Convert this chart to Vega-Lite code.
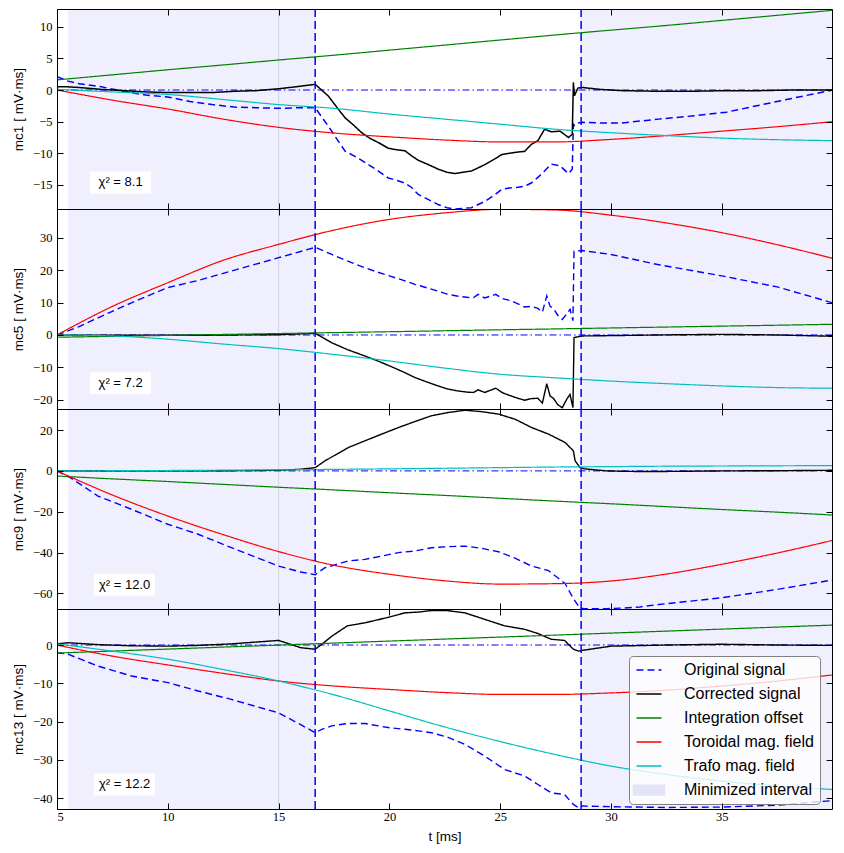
{
"$schema": "https://vega.github.io/schema/vega-lite/v6.json",
"padding": {"left": 11, "top": 8, "right": 10, "bottom": 4},
"bounds": "flush",
"config": {
 "view": {"stroke": null},
 "axis": {"labelFont": "Liberation Serif", "labelFontSize": 12.5, "labelColor": "black", "titleFont": "Liberation Sans", "titleFontSize": 13.5, "titleFontWeight": "normal", "titleColor": "black", "grid": false, "domain": true, "domainColor": "black", "domainWidth": 1, "tickColor": "black", "tickSize": -6, "tickWidth": 1, "labelPadding": 11, "titlePadding": 7},
 "legend": {"labelFont": "Liberation Sans", "labelFontSize": 16, "labelColor": "black", "symbolType": "stroke", "symbolSize": 625, "symbolStrokeWidth": 1.5, "labelOffset": 27, "symbolOffset": 6, "rowPadding": 8, "padding": 6, "fillColor": "rgba(255,255,255,0.8)", "strokeColor": "#808080", "cornerRadius": 4}
},
"datasets": {
 "spans": [{"a": 5.5, "b": 16.65}, {"a": 28.65, "b": 40}],
 "vl": [{"t": 16.65}, {"t": 28.65}],
 "ann": [{"p": 1, "t": 7.87, "v": -14.6, "lab": "χ² = 8.1"}, {"p": 2, "t": 7.87, "v": -14.9, "lab": "χ² = 7.2"}, {"p": 3, "t": 8.05, "v": -55.7, "lab": "χ² = 12.0"}, {"p": 4, "t": 8.05, "v": -36.4, "lab": "χ² = 12.2"}],
 "s": [
  {"p":1,"t":5,"i":1.6,"r":0,"f":0.1},{"p":1,"t":7.5,"i":2.4,"r":-1.6,"f":-0.3},{"p":1,"t":10,"i":3.2,"r":-3.0,"f":-0.7},{"p":1,"t":12.5,"i":3.96,"r":-4.6,"f":-1.5},{"p":1,"t":15,"i":4.74,"r":-5.9,"f":-2.3},{"p":1,"t":17.5,"i":5.5,"r":-6.8,"f":-2.9},{"p":1,"t":20,"i":6.3,"r":-7.4,"f":-3.8},{"p":1,"t":22.5,"i":7.1,"r":-7.9,"f":-4.6},{"p":1,"t":25,"i":7.9,"r":-8.2,"f":-5.4},{"p":1,"t":27.5,"i":8.7,"r":-8.2,"f":-6.2},{"p":1,"t":30,"i":9.46,"r":-7.8,"f":-6.75},{"p":1,"t":32.5,"i":10.2,"r":-7.2,"f":-7.2},{"p":1,"t":35,"i":11.0,"r":-6.5,"f":-7.6},{"p":1,"t":37.5,"i":11.8,"r":-5.8,"f":-7.85},{"p":1,"t":40,"i":12.6,"r":-5.0,"f":-8.0},
  {"p":2,"t":5,"i":-0.7,"r":0,"f":0},{"p":2,"t":7.5,"i":-0.41,"r":8.8,"f":-0.3},{"p":2,"t":10,"i":-0.13,"r":16.1,"f":-1.3},{"p":2,"t":12.5,"i":0.16,"r":23.0,"f":-2.8},{"p":2,"t":15,"i":0.44,"r":27.9,"f":-4.2},{"p":2,"t":17.5,"i":0.73,"r":32.3,"f":-6.0},{"p":2,"t":20,"i":1.0,"r":35.6,"f":-8.0},{"p":2,"t":22.5,"i":1.3,"r":37.6,"f":-10.2},{"p":2,"t":25,"i":1.6,"r":38.7,"f":-12.1},{"p":2,"t":27.5,"i":1.87,"r":38.5,"f":-13.2},{"p":2,"t":30,"i":2.16,"r":36.9,"f":-14.2},{"p":2,"t":32.5,"i":2.44,"r":34.5,"f":-15.0},{"p":2,"t":35,"i":2.73,"r":31.5,"f":-15.7},{"p":2,"t":37.5,"i":3.0,"r":27.8,"f":-16.2},{"p":2,"t":40,"i":3.3,"r":23.6,"f":-16.4},
  {"p":3,"t":5,"i":-2.5,"r":0,"f":0},{"p":3,"t":7.5,"i":-3.9,"r":-11.8,"f":0.1},{"p":3,"t":10,"i":-5.2,"r":-22.1,"f":0.2},{"p":3,"t":12.5,"i":-6.6,"r":-31.2,"f":0.35},{"p":3,"t":15,"i":-8.0,"r":-39.5,"f":0.5},{"p":3,"t":17.5,"i":-9.3,"r":-46.2,"f":0.75},{"p":3,"t":20,"i":-10.7,"r":-50.6,"f":1.0},{"p":3,"t":22.5,"i":-12.0,"r":-53.8,"f":1.3},{"p":3,"t":25,"i":-13.4,"r":-55.4,"f":1.6},{"p":3,"t":27.5,"i":-14.8,"r":-55.2,"f":1.9},{"p":3,"t":30,"i":-16.1,"r":-53.9,"f":2.1},{"p":3,"t":32.5,"i":-17.5,"r":-50.5,"f":2.3},{"p":3,"t":35,"i":-18.9,"r":-45.7,"f":2.4},{"p":3,"t":37.5,"i":-20.2,"r":-40.2,"f":2.5},{"p":3,"t":40,"i":-21.6,"r":-34.0,"f":2.6},
  {"p":4,"t":5,"i":-2.1,"r":0,"f":0.3},{"p":4,"t":7.5,"i":-1.58,"r":-2.9,"f":-1.6},{"p":4,"t":10,"i":-1.06,"r":-5.2,"f":-3.7},{"p":4,"t":12.5,"i":-0.54,"r":-7.4,"f":-6.4},{"p":4,"t":15,"i":-0.02,"r":-9.4,"f":-9.4},{"p":4,"t":17.5,"i":0.5,"r":-10.7,"f":-13.0},{"p":4,"t":20,"i":1.03,"r":-11.6,"f":-17.2},{"p":4,"t":22.5,"i":1.55,"r":-12.4,"f":-21.4},{"p":4,"t":25,"i":2.07,"r":-12.9,"f":-25.2},{"p":4,"t":27.5,"i":2.59,"r":-12.9,"f":-28.6},{"p":4,"t":30,"i":3.11,"r":-12.5,"f":-31.6},{"p":4,"t":32.5,"i":3.63,"r":-11.8,"f":-33.8},{"p":4,"t":35,"i":4.15,"r":-10.7,"f":-35.5},{"p":4,"t":37.5,"i":4.68,"r":-9.4,"f":-36.8},{"p":4,"t":40,"i":5.2,"r":-7.8,"f":-37.7}
 ],
 "m": [
  {"p":1,"t":5,"o":2.1,"c":0.5},{"p":1,"t":5.5,"o":1.4,"c":0.5},{"p":1,"t":6,"o":1.0,"c":0.4},{"p":1,"t":7,"o":0.5,"c":0.1},{"p":1,"t":8,"o":-0.2,"c":-0.1},{"p":1,"t":9,"o":-0.8,"c":-0.3},{"p":1,"t":10,"o":-1.1,"c":-0.4},{"p":1,"t":11,"o":-1.8,"c":-0.4},{"p":1,"t":12,"o":-2.3,"c":-0.4},{"p":1,"t":13,"o":-2.7,"c":-0.2},{"p":1,"t":14,"o":-2.8,"c":-0.1},{"p":1,"t":15,"o":-2.9,"c":0.2},{"p":1,"t":16,"o":-2.8,"c":0.6},{"p":1,"t":16.65,"o":-2.8,"c":0.9},{"p":1,"t":17.24,"o":-5.7,"c":-0.95},{"p":1,"t":17.6,"o":-7.6,"c":-2.6},{"p":1,"t":18.0,"o":-9.65,"c":-4.4},{"p":1,"t":18.4,"o":-10.4,"c":-5.6},{"p":1,"t":18.75,"o":-11.1,"c":-6.75},{"p":1,"t":19.1,"o":-11.9,"c":-7.6},{"p":1,"t":19.5,"o":-12.8,"c":-8.3},{"p":1,"t":19.95,"o":-13.9,"c":-9.2},{"p":1,"t":20.25,"o":-14.2,"c":-9.4},{"p":1,"t":20.7,"o":-14.7,"c":-9.6},{"p":1,"t":21.0,"o":-15.4,"c":-10.4},{"p":1,"t":21.3,"o":-16.5,"c":-11.1},{"p":1,"t":21.7,"o":-17.2,"c":-11.7},{"p":1,"t":22.2,"o":-18.1,"c":-12.5},{"p":1,"t":22.6,"o":-18.6,"c":-13.0},{"p":1,"t":22.96,"o":-18.8,"c":-13.2},{"p":1,"t":23.3,"o":-18.7,"c":-13.0},{"p":1,"t":23.7,"o":-18.6,"c":-12.8},{"p":1,"t":24.3,"o":-17.6,"c":-11.8},{"p":1,"t":24.7,"o":-16.7,"c":-11.0},{"p":1,"t":25.07,"o":-15.7,"c":-10.2},{"p":1,"t":25.4,"o":-15.5,"c":-10.0},{"p":1,"t":25.8,"o":-15.35,"c":-9.8},{"p":1,"t":26.1,"o":-15.2,"c":-9.7},{"p":1,"t":26.4,"o":-14.7,"c":-8.6},{"p":1,"t":26.7,"o":-13.8,"c":-8.0},{"p":1,"t":27.0,"o":-12.8,"c":-6.2},{"p":1,"t":27.3,"o":-11.7,"c":-6.6},{"p":1,"t":27.7,"o":-12.0,"c":-6.5},{"p":1,"t":28.08,"o":-13.2,"c":-7.5},{"p":1,"t":28.25,"o":-12.5,"c":-7.0},{"p":1,"t":28.3,"o":-5.4,"c":1.2},{"p":1,"t":28.35,"o":-5.6,"c":-0.9},{"p":1,"t":28.5,"o":-5.2,"c":0.3},{"p":1,"t":28.7,"o":-5.1,"c":0.4},{"p":1,"t":29.5,"o":-5.2,"c":0.1},{"p":1,"t":30.5,"o":-5.2,"c":-0.1},{"p":1,"t":32.15,"o":-4.6,"c":-0.2},{"p":1,"t":33.65,"o":-4.1,"c":-0.2},{"p":1,"t":35.2,"o":-3.5,"c":-0.1},{"p":1,"t":36.7,"o":-2.4,"c":-0.1},{"p":1,"t":38.2,"o":-1.3,"c":0.0},{"p":1,"t":40,"o":0.0,"c":0.0},
  {"p":2,"t":5,"o":0,"c":0},{"p":2,"t":6,"o":2.6,"c":-0.1},{"p":2,"t":7.5,"o":7.3,"c":-0.1},{"p":2,"t":8.36,"o":9.9,"c":-0.1},{"p":2,"t":10,"o":14.6,"c":-0.1},{"p":2,"t":11.37,"o":16.8,"c":-0.1},{"p":2,"t":12.87,"o":19.7,"c":0.0},{"p":2,"t":15,"o":23.8,"c":0.1},{"p":2,"t":16.65,"o":27.0,"c":0.5},{"p":2,"t":17.4,"o":24.8,"c":-2.4},{"p":2,"t":18.1,"o":22.8,"c":-4.5},{"p":2,"t":18.9,"o":20.7,"c":-6.5},{"p":2,"t":19.4,"o":19.5,"c":-7.8},{"p":2,"t":20.0,"o":18.2,"c":-9.5},{"p":2,"t":20.6,"o":16.9,"c":-11.3},{"p":2,"t":21.15,"o":15.6,"c":-13.1},{"p":2,"t":21.7,"o":14.5,"c":-14.5},{"p":2,"t":22.2,"o":13.5,"c":-15.7},{"p":2,"t":22.6,"o":12.6,"c":-16.6},{"p":2,"t":23.05,"o":12.0,"c":-17.2},{"p":2,"t":23.5,"o":11.6,"c":-17.6},{"p":2,"t":23.8,"o":11.5,"c":-17.7},{"p":2,"t":24.0,"o":12.5,"c":-16.9},{"p":2,"t":24.3,"o":11.4,"c":-17.7},{"p":2,"t":24.8,"o":12.5,"c":-16.4},{"p":2,"t":25.1,"o":11.2,"c":-17.8},{"p":2,"t":25.5,"o":10.5,"c":-18.8},{"p":2,"t":25.8,"o":9.6,"c":-19.5},{"p":2,"t":26.1,"o":8.6,"c":-20.1},{"p":2,"t":26.4,"o":8.8,"c":-19.6},{"p":2,"t":26.7,"o":8.2,"c":-19.5},{"p":2,"t":26.9,"o":7.0,"c":-21.0},{"p":2,"t":27.1,"o":12.0,"c":-15.0},{"p":2,"t":27.25,"o":8.8,"c":-18.8},{"p":2,"t":27.4,"o":8.2,"c":-19.5},{"p":2,"t":27.6,"o":6.0,"c":-21.5},{"p":2,"t":27.8,"o":4.8,"c":-22.4},{"p":2,"t":28.0,"o":6.5,"c":-19.8},{"p":2,"t":28.15,"o":7.9,"c":-18.3},{"p":2,"t":28.28,"o":4.4,"c":-22.4},{"p":2,"t":28.33,"o":25.8,"c":-0.8},{"p":2,"t":28.7,"o":26.0,"c":-0.3},{"p":2,"t":30,"o":24.8,"c":-0.2},{"p":2,"t":32.1,"o":21.7,"c":0.0},{"p":2,"t":35,"o":18.2,"c":0.2},{"p":2,"t":37.5,"o":14.8,"c":0.0},{"p":2,"t":40,"o":9.9,"c":-0.4},
  {"p":3,"t":5,"o":0,"c":0},{"p":3,"t":5.6,"o":-3.3,"c":0},{"p":3,"t":6.85,"o":-12.3,"c":0},{"p":3,"t":8.36,"o":-18.8,"c":0},{"p":3,"t":10,"o":-26.1,"c":0},{"p":3,"t":11.37,"o":-31.0,"c":0},{"p":3,"t":12.87,"o":-37.6,"c":0.1},{"p":3,"t":15,"o":-46.6,"c":0.3},{"p":3,"t":16,"o":-49.5,"c":0.8},{"p":3,"t":16.65,"o":-50.8,"c":1.6},{"p":3,"t":17.09,"o":-47.4,"c":4.9},{"p":3,"t":18.14,"o":-44.1,"c":11.4},{"p":3,"t":18.89,"o":-43.3,"c":14.7},{"p":3,"t":19.65,"o":-41.7,"c":18.0},{"p":3,"t":20.4,"o":-40.0,"c":21.2},{"p":3,"t":21.16,"o":-39.2,"c":24.2},{"p":3,"t":21.9,"o":-37.6,"c":27.0},{"p":3,"t":22.66,"o":-37.1,"c":28.6},{"p":3,"t":23.41,"o":-36.8,"c":29.7},{"p":3,"t":24.16,"o":-37.9,"c":29.0},{"p":3,"t":24.92,"o":-39.6,"c":27.8},{"p":3,"t":25.67,"o":-42.7,"c":25.3},{"p":3,"t":26.42,"o":-46.6,"c":21.2},{"p":3,"t":27.18,"o":-48.8,"c":18.0},{"p":3,"t":27.93,"o":-55.2,"c":13.9},{"p":3,"t":28.3,"o":-62.5,"c":9.8},{"p":3,"t":28.38,"o":-63.7,"c":4.9},{"p":3,"t":28.6,"o":-67.2,"c":1.6},{"p":3,"t":28.8,"o":-67.4,"c":1.0},{"p":3,"t":29.8,"o":-67.4,"c":0.0},{"p":3,"t":30.6,"o":-67.1,"c":-0.2},{"p":3,"t":31.3,"o":-66.6,"c":-0.3},{"p":3,"t":32.15,"o":-65.4,"c":-0.3},{"p":3,"t":35,"o":-62.1,"c":0.0},{"p":3,"t":37.5,"o":-58.0,"c":0.1},{"p":3,"t":40,"o":-53.4,"c":0.3},
  {"p":4,"t":5,"o":-2.0,"c":0.3},{"p":4,"t":5.5,"o":-2.4,"c":0.6},{"p":4,"t":6.85,"o":-5.5,"c":0.1},{"p":4,"t":8.36,"o":-8.1,"c":-0.2},{"p":4,"t":10,"o":-9.8,"c":-0.3},{"p":4,"t":11.37,"o":-12.0,"c":-0.1},{"p":4,"t":12.87,"o":-14.2,"c":0.3},{"p":4,"t":15,"o":-17.7,"c":1.2},{"p":4,"t":16,"o":-20.8,"c":-0.7},{"p":4,"t":16.65,"o":-22.9,"c":-1.1},{"p":4,"t":16.95,"o":-22.0,"c":0.2},{"p":4,"t":17.4,"o":-21.1,"c":2.3},{"p":4,"t":18.1,"o":-20.5,"c":5.0},{"p":4,"t":18.9,"o":-20.5,"c":5.8},{"p":4,"t":20.0,"o":-21.6,"c":7.3},{"p":4,"t":20.7,"o":-22.0,"c":8.4},{"p":4,"t":21.3,"o":-22.4,"c":8.6},{"p":4,"t":21.9,"o":-22.9,"c":9.0},{"p":4,"t":22.6,"o":-24.0,"c":9.0},{"p":4,"t":23.4,"o":-25.9,"c":8.4},{"p":4,"t":24.3,"o":-29.0,"c":6.7},{"p":4,"t":25.2,"o":-32.5,"c":5.0},{"p":4,"t":26.1,"o":-34.2,"c":4.1},{"p":4,"t":26.7,"o":-36.4,"c":3.0},{"p":4,"t":27.3,"o":-38.6,"c":1.5},{"p":4,"t":27.9,"o":-39.0,"c":1.2},{"p":4,"t":28.3,"o":-41.6,"c":-1.1},{"p":4,"t":28.55,"o":-42.5,"c":-1.6},{"p":4,"t":28.7,"o":-42.0,"c":-1.4},{"p":4,"t":30,"o":-42.2,"c":-0.3},{"p":4,"t":32.5,"o":-42.4,"c":0.0},{"p":4,"t":35,"o":-42.3,"c":0.2},{"p":4,"t":37.5,"o":-41.8,"c":0.0},{"p":4,"t":40,"o":-40.6,"c":-0.1}
 ]
},
"spacing": 0,
"resolve": {"scale": {"x": "independent", "y": "independent", "color": "independent", "strokeDash": "independent"}},
"vconcat": [
 {"width": 775, "height": 200, "resolve": {"axis": {"x": "independent", "y": "independent"}}, "layer": [
  {"data": {"name": "spans"}, "mark": {"type": "rect", "color": "#efeffd", "clip": true}, "encoding": {"x": {"field": "a", "type": "quantitative", "scale": {"domain": [5, 39.97], "nice": false, "zero": false}, "axis": null}, "x2": {"field": "b"}}},
  {"data": {"values": [{}]}, "mark": {"type": "rule", "color": "#d2d2de", "strokeWidth": 1}, "encoding": {"x": {"datum": 15, "type": "quantitative", "scale": {"domain": [5, 39.97], "nice": false, "zero": false}, "axis": null}}},
  {"data": {"values": [{}]}, "mark": {"type": "rule", "color": "#0000ff", "strokeDash": [7, 3, 1.5, 3], "strokeWidth": 1}, "encoding": {"y": {"datum": 0, "type": "quantitative", "scale": {"domain": [-18.8, 12.8], "nice": false, "zero": false}, "axis": null}}},
  {"data": {"name": "m"}, "transform": [{"filter": "datum.p == 1"}, {"fold": ["o", "c"], "as": ["k", "v"]}], "mark": {"type": "line", "strokeWidth": 1.5, "clip": true},
   "encoding": {"x": {"field": "t", "type": "quantitative", "scale": {"domain": [5, 39.97], "nice": false, "zero": false}, "axis": {"orient": "bottom", "zindex": 1, "values": [5, 10, 15, 20, 25, 30, 35], "labels": false, "title": null}},
    "y": {"field": "v", "type": "quantitative", "scale": {"domain": [-18.8, 12.8], "nice": false, "zero": false}, "axis": {"orient": "left", "zindex": 1, "values": [-15, -10, -5, 0, 5, 10], "title": "mc1 [ mV·ms]"}},
    "color": {"field": "k", "type": "nominal", "scale": {"domain": ["o", "c", "i", "r", "f", "m"], "range": ["#0000ff", "#000000", "#008000", "#ff0000", "#00bfbf", "#e4e4f8"]}, "legend": null},
    "strokeDash": {"field": "k", "type": "nominal", "scale": {"domain": ["o", "c", "i", "r", "f", "m"], "range": [[7, 4], [1, 0], [1, 0], [1, 0], [1, 0], [1, 0]]}, "legend": null}}},
  {"data": {"name": "s"}, "transform": [{"filter": "datum.p == 1"}, {"fold": ["i", "r", "f"], "as": ["k", "v"]}], "mark": {"type": "line", "interpolate": "monotone", "strokeWidth": 1.2, "clip": true},
   "encoding": {"x": {"field": "t", "type": "quantitative", "scale": {"domain": [5, 39.97], "nice": false, "zero": false}, "axis": {"orient": "top", "zindex": 1, "values": [5, 10, 15, 20, 25, 30, 35], "labels": false, "title": null}},
    "y": {"field": "v", "type": "quantitative", "scale": {"domain": [-18.8, 12.8], "nice": false, "zero": false}, "axis": {"orient": "right", "zindex": 1, "values": [-15, -10, -5, 0, 5, 10], "labels": false, "title": null}},
    "color": {"field": "k", "type": "nominal", "scale": {"domain": ["o", "c", "i", "r", "f", "m"], "range": ["#0000ff", "#000000", "#008000", "#ff0000", "#00bfbf", "#e4e4f8"]}, "legend": null},
    "strokeDash": {"field": "k", "type": "nominal", "scale": {"domain": ["o", "c", "i", "r", "f", "m"], "range": [[7, 4], [1, 0], [1, 0], [1, 0], [1, 0], [1, 0]]}, "legend": null}}},
  {"data": {"name": "vl"}, "mark": {"type": "rule", "color": "#0000ff", "strokeDash": [8, 4], "strokeWidth": 1.5}, "encoding": {"x": {"field": "t", "type": "quantitative", "scale": {"domain": [5, 39.97], "nice": false, "zero": false}, "axis": null}}},
  {"data": {"name": "ann"}, "transform": [{"filter": "datum.p == 1"}], "mark": {"type": "point", "shape": "M-1,-0.36L1,-0.36L1,0.36L-1,0.36Z", "size": 3721, "filled": true, "color": "white", "opacity": 1, "strokeWidth": 0}, "encoding": {"x": {"field": "t", "type": "quantitative", "scale": {"domain": [5, 39.97], "nice": false, "zero": false}, "axis": null}, "y": {"field": "v", "type": "quantitative", "scale": {"domain": [-18.8, 12.8], "nice": false, "zero": false}, "axis": null}}},
  {"data": {"name": "ann"}, "transform": [{"filter": "datum.p == 1"}], "mark": {"type": "text", "font": "Liberation Sans", "fontSize": 13, "color": "black"}, "encoding": {"x": {"field": "t", "type": "quantitative", "scale": {"domain": [5, 39.97], "nice": false, "zero": false}, "axis": null}, "y": {"field": "v", "type": "quantitative", "scale": {"domain": [-18.8, 12.8], "nice": false, "zero": false}, "axis": null}, "text": {"field": "lab"}}}
 ]},
 {"width": 775, "height": 200, "resolve": {"axis": {"x": "independent", "y": "independent"}}, "layer": [
  {"data": {"name": "spans"}, "mark": {"type": "rect", "color": "#efeffd", "clip": true}, "encoding": {"x": {"field": "a", "type": "quantitative", "scale": {"domain": [5, 39.97], "nice": false, "zero": false}, "axis": null}, "x2": {"field": "b"}}},
  {"data": {"values": [{}]}, "mark": {"type": "rule", "color": "#d2d2de", "strokeWidth": 1}, "encoding": {"x": {"datum": 15, "type": "quantitative", "scale": {"domain": [5, 39.97], "nice": false, "zero": false}, "axis": null}}},
  {"data": {"values": [{}]}, "mark": {"type": "rule", "color": "#0000ff", "strokeDash": [7, 3, 1.5, 3], "strokeWidth": 1}, "encoding": {"y": {"datum": 0, "type": "quantitative", "scale": {"domain": [-22.8, 38.8], "nice": false, "zero": false}, "axis": null}}},
  {"data": {"name": "m"}, "transform": [{"filter": "datum.p == 2"}, {"fold": ["o", "c"], "as": ["k", "v"]}], "mark": {"type": "line", "strokeWidth": 1.4, "clip": true},
   "encoding": {"x": {"field": "t", "type": "quantitative", "scale": {"domain": [5, 39.97], "nice": false, "zero": false}, "axis": {"orient": "bottom", "zindex": 1, "values": [5, 10, 15, 20, 25, 30, 35], "labels": false, "title": null}},
    "y": {"field": "v", "type": "quantitative", "scale": {"domain": [-22.8, 38.8], "nice": false, "zero": false}, "axis": {"orient": "left", "zindex": 1, "values": [-20, -10, 0, 10, 20, 30], "title": "mc5 [ mV·ms]"}},
    "color": {"field": "k", "type": "nominal", "scale": {"domain": ["o", "c", "i", "r", "f", "m"], "range": ["#0000ff", "#000000", "#008000", "#ff0000", "#00bfbf", "#e4e4f8"]}, "legend": null},
    "strokeDash": {"field": "k", "type": "nominal", "scale": {"domain": ["o", "c", "i", "r", "f", "m"], "range": [[7, 4], [1, 0], [1, 0], [1, 0], [1, 0], [1, 0]]}, "legend": null}}},
  {"data": {"name": "s"}, "transform": [{"filter": "datum.p == 2"}, {"fold": ["i", "r", "f"], "as": ["k", "v"]}], "mark": {"type": "line", "interpolate": "monotone", "strokeWidth": 1.2, "clip": true},
   "encoding": {"x": {"field": "t", "type": "quantitative", "scale": {"domain": [5, 39.97], "nice": false, "zero": false}, "axis": {"orient": "top", "zindex": 1, "values": [5, 10, 15, 20, 25, 30, 35], "labels": false, "title": null}},
    "y": {"field": "v", "type": "quantitative", "scale": {"domain": [-22.8, 38.8], "nice": false, "zero": false}, "axis": {"orient": "right", "zindex": 1, "values": [-20, -10, 0, 10, 20, 30], "labels": false, "title": null}},
    "color": {"field": "k", "type": "nominal", "scale": {"domain": ["o", "c", "i", "r", "f", "m"], "range": ["#0000ff", "#000000", "#008000", "#ff0000", "#00bfbf", "#e4e4f8"]}, "legend": null},
    "strokeDash": {"field": "k", "type": "nominal", "scale": {"domain": ["o", "c", "i", "r", "f", "m"], "range": [[7, 4], [1, 0], [1, 0], [1, 0], [1, 0], [1, 0]]}, "legend": null}}},
  {"data": {"name": "vl"}, "mark": {"type": "rule", "color": "#0000ff", "strokeDash": [8, 4], "strokeWidth": 1.5}, "encoding": {"x": {"field": "t", "type": "quantitative", "scale": {"domain": [5, 39.97], "nice": false, "zero": false}, "axis": null}}},
  {"data": {"name": "ann"}, "transform": [{"filter": "datum.p == 2"}], "mark": {"type": "point", "shape": "M-1,-0.36L1,-0.36L1,0.36L-1,0.36Z", "size": 3721, "filled": true, "color": "white", "opacity": 1, "strokeWidth": 0}, "encoding": {"x": {"field": "t", "type": "quantitative", "scale": {"domain": [5, 39.97], "nice": false, "zero": false}, "axis": null}, "y": {"field": "v", "type": "quantitative", "scale": {"domain": [-22.8, 38.8], "nice": false, "zero": false}, "axis": null}}},
  {"data": {"name": "ann"}, "transform": [{"filter": "datum.p == 2"}], "mark": {"type": "text", "font": "Liberation Sans", "fontSize": 13, "color": "black"}, "encoding": {"x": {"field": "t", "type": "quantitative", "scale": {"domain": [5, 39.97], "nice": false, "zero": false}, "axis": null}, "y": {"field": "v", "type": "quantitative", "scale": {"domain": [-22.8, 38.8], "nice": false, "zero": false}, "axis": null}, "text": {"field": "lab"}}}
 ]},
 {"width": 775, "height": 200, "resolve": {"axis": {"x": "independent", "y": "independent"}}, "layer": [
  {"data": {"name": "spans"}, "mark": {"type": "rect", "color": "#efeffd", "clip": true}, "encoding": {"x": {"field": "a", "type": "quantitative", "scale": {"domain": [5, 39.97], "nice": false, "zero": false}, "axis": null}, "x2": {"field": "b"}}},
  {"data": {"values": [{}]}, "mark": {"type": "rule", "color": "#d2d2de", "strokeWidth": 1}, "encoding": {"x": {"datum": 15, "type": "quantitative", "scale": {"domain": [5, 39.97], "nice": false, "zero": false}, "axis": null}}},
  {"data": {"values": [{}]}, "mark": {"type": "rule", "color": "#0000ff", "strokeDash": [7, 3, 1.5, 3], "strokeWidth": 1}, "encoding": {"y": {"datum": 0, "type": "quantitative", "scale": {"domain": [-67.6, 30.3], "nice": false, "zero": false}, "axis": null}}},
  {"data": {"name": "m"}, "transform": [{"filter": "datum.p == 3"}, {"fold": ["o", "c"], "as": ["k", "v"]}], "mark": {"type": "line", "strokeWidth": 1.4, "clip": true},
   "encoding": {"x": {"field": "t", "type": "quantitative", "scale": {"domain": [5, 39.97], "nice": false, "zero": false}, "axis": {"orient": "bottom", "zindex": 1, "values": [5, 10, 15, 20, 25, 30, 35], "labels": false, "title": null}},
    "y": {"field": "v", "type": "quantitative", "scale": {"domain": [-67.6, 30.3], "nice": false, "zero": false}, "axis": {"orient": "left", "zindex": 1, "values": [-60, -40, -20, 0, 20], "title": "mc9 [ mV·ms]"}},
    "color": {"field": "k", "type": "nominal", "scale": {"domain": ["o", "c", "i", "r", "f", "m"], "range": ["#0000ff", "#000000", "#008000", "#ff0000", "#00bfbf", "#e4e4f8"]}, "legend": null},
    "strokeDash": {"field": "k", "type": "nominal", "scale": {"domain": ["o", "c", "i", "r", "f", "m"], "range": [[7, 4], [1, 0], [1, 0], [1, 0], [1, 0], [1, 0]]}, "legend": null}}},
  {"data": {"name": "s"}, "transform": [{"filter": "datum.p == 3"}, {"fold": ["i", "r", "f"], "as": ["k", "v"]}], "mark": {"type": "line", "interpolate": "monotone", "strokeWidth": 1.2, "clip": true},
   "encoding": {"x": {"field": "t", "type": "quantitative", "scale": {"domain": [5, 39.97], "nice": false, "zero": false}, "axis": {"orient": "top", "zindex": 1, "values": [5, 10, 15, 20, 25, 30, 35], "labels": false, "title": null}},
    "y": {"field": "v", "type": "quantitative", "scale": {"domain": [-67.6, 30.3], "nice": false, "zero": false}, "axis": {"orient": "right", "zindex": 1, "values": [-60, -40, -20, 0, 20], "labels": false, "title": null}},
    "color": {"field": "k", "type": "nominal", "scale": {"domain": ["o", "c", "i", "r", "f", "m"], "range": ["#0000ff", "#000000", "#008000", "#ff0000", "#00bfbf", "#e4e4f8"]}, "legend": null},
    "strokeDash": {"field": "k", "type": "nominal", "scale": {"domain": ["o", "c", "i", "r", "f", "m"], "range": [[7, 4], [1, 0], [1, 0], [1, 0], [1, 0], [1, 0]]}, "legend": null}}},
  {"data": {"name": "vl"}, "mark": {"type": "rule", "color": "#0000ff", "strokeDash": [8, 4], "strokeWidth": 1.5}, "encoding": {"x": {"field": "t", "type": "quantitative", "scale": {"domain": [5, 39.97], "nice": false, "zero": false}, "axis": null}}},
  {"data": {"name": "ann"}, "transform": [{"filter": "datum.p == 3"}], "mark": {"type": "point", "shape": "M-1,-0.36L1,-0.36L1,0.36L-1,0.36Z", "size": 3721, "filled": true, "color": "white", "opacity": 1, "strokeWidth": 0}, "encoding": {"x": {"field": "t", "type": "quantitative", "scale": {"domain": [5, 39.97], "nice": false, "zero": false}, "axis": null}, "y": {"field": "v", "type": "quantitative", "scale": {"domain": [-67.6, 30.3], "nice": false, "zero": false}, "axis": null}}},
  {"data": {"name": "ann"}, "transform": [{"filter": "datum.p == 3"}], "mark": {"type": "text", "font": "Liberation Sans", "fontSize": 13, "color": "black"}, "encoding": {"x": {"field": "t", "type": "quantitative", "scale": {"domain": [5, 39.97], "nice": false, "zero": false}, "axis": null}, "y": {"field": "v", "type": "quantitative", "scale": {"domain": [-67.6, 30.3], "nice": false, "zero": false}, "axis": null}, "text": {"field": "lab"}}}
 ]},
 {"width": 775, "height": 200, "resolve": {"axis": {"x": "independent", "y": "independent"}}, "layer": [
  {"data": {"name": "spans"}, "mark": {"type": "rect", "color": "#efeffd", "clip": true}, "encoding": {"x": {"field": "a", "type": "quantitative", "scale": {"domain": [5, 39.97], "nice": false, "zero": false}, "axis": null}, "x2": {"field": "b"}}},
  {"data": {"values": [{}]}, "mark": {"type": "rule", "color": "#d2d2de", "strokeWidth": 1}, "encoding": {"x": {"datum": 15, "type": "quantitative", "scale": {"domain": [5, 39.97], "nice": false, "zero": false}, "axis": null}}},
  {"data": {"values": [{}]}, "mark": {"type": "rule", "color": "#0000ff", "strokeDash": [7, 3, 1.5, 3], "strokeWidth": 1}, "encoding": {"y": {"datum": 0, "type": "quantitative", "scale": {"domain": [-42.8, 9.4], "nice": false, "zero": false}, "axis": null}}},
  {"data": {"name": "m"}, "transform": [{"filter": "datum.p == 4"}, {"fold": ["o", "c"], "as": ["k", "v"]}], "mark": {"type": "line", "strokeWidth": 1.4, "clip": true},
   "encoding": {"x": {"field": "t", "type": "quantitative", "scale": {"domain": [5, 39.97], "nice": false, "zero": false}, "axis": {"orient": "bottom", "zindex": 1, "values": [5, 10, 15, 20, 25, 30, 35], "title": "t [ms]", "labelPadding": 7, "titlePadding": 7}},
    "y": {"field": "v", "type": "quantitative", "scale": {"domain": [-42.8, 9.4], "nice": false, "zero": false}, "axis": {"orient": "left", "zindex": 1, "values": [-40, -30, -20, -10, 0], "title": "mc13 [ mV·ms]"}},
    "color": {"field": "k", "type": "nominal", "scale": {"domain": ["o", "c", "i", "r", "f", "m"], "range": ["#0000ff", "#000000", "#008000", "#ff0000", "#00bfbf", "#e4e4f8"]}, "legend": {"orient": "none", "legendX": 572, "legendY": 47, "title": null, "labelOffset": 27, "symbolOffset": 6, "labelExpr": "datum.value == 'o' ? 'Original signal' : datum.value == 'c' ? 'Corrected signal' : datum.value == 'i' ? 'Integration offset' : datum.value == 'r' ? 'Toroidal mag. field' : datum.value == 'f' ? 'Trafo mag. field' : 'Minimized interval'", "encode": {"symbols": {"update": {"shape": {"signal": "datum.value == 'm' ? 'M-1.3,-0.45L1.3,-0.45L1.3,0.45L-1.3,0.45Z' : 'stroke'"}, "fill": {"signal": "datum.value == 'm' ? '#e4e4f8' : 'transparent'"}, "strokeWidth": {"signal": "datum.value == 'm' ? 0 : 1.5"}}}}}},
    "strokeDash": {"field": "k", "type": "nominal", "scale": {"domain": ["o", "c", "i", "r", "f", "m"], "range": [[7, 4], [1, 0], [1, 0], [1, 0], [1, 0], [1, 0]]}, "legend": {"orient": "none", "legendX": 572, "legendY": 47, "title": null, "labelOffset": 27, "symbolOffset": 6, "labelExpr": "datum.value == 'o' ? 'Original signal' : datum.value == 'c' ? 'Corrected signal' : datum.value == 'i' ? 'Integration offset' : datum.value == 'r' ? 'Toroidal mag. field' : datum.value == 'f' ? 'Trafo mag. field' : 'Minimized interval'", "encode": {"symbols": {"update": {"shape": {"signal": "datum.value == 'm' ? 'M-1.3,-0.45L1.3,-0.45L1.3,0.45L-1.3,0.45Z' : 'stroke'"}, "fill": {"signal": "datum.value == 'm' ? '#e4e4f8' : 'transparent'"}, "strokeWidth": {"signal": "datum.value == 'm' ? 0 : 1.5"}}}}}}}},
  {"data": {"name": "s"}, "transform": [{"filter": "datum.p == 4"}, {"fold": ["i", "r", "f"], "as": ["k", "v"]}], "mark": {"type": "line", "interpolate": "monotone", "strokeWidth": 1.2, "clip": true},
   "encoding": {"x": {"field": "t", "type": "quantitative", "scale": {"domain": [5, 39.97], "nice": false, "zero": false}, "axis": {"orient": "top", "zindex": 1, "values": [5, 10, 15, 20, 25, 30, 35], "labels": false, "title": null}},
    "y": {"field": "v", "type": "quantitative", "scale": {"domain": [-42.8, 9.4], "nice": false, "zero": false}, "axis": {"orient": "right", "zindex": 1, "values": [-40, -30, -20, -10, 0], "labels": false, "title": null}},
    "color": {"field": "k", "type": "nominal", "scale": {"domain": ["o", "c", "i", "r", "f", "m"], "range": ["#0000ff", "#000000", "#008000", "#ff0000", "#00bfbf", "#e4e4f8"]}},
    "strokeDash": {"field": "k", "type": "nominal", "scale": {"domain": ["o", "c", "i", "r", "f", "m"], "range": [[7, 4], [1, 0], [1, 0], [1, 0], [1, 0], [1, 0]]}}}},
  {"data": {"name": "vl"}, "mark": {"type": "rule", "color": "#0000ff", "strokeDash": [8, 4], "strokeWidth": 1.5}, "encoding": {"x": {"field": "t", "type": "quantitative", "scale": {"domain": [5, 39.97], "nice": false, "zero": false}, "axis": null}}},
  {"data": {"name": "ann"}, "transform": [{"filter": "datum.p == 4"}], "mark": {"type": "point", "shape": "M-1,-0.36L1,-0.36L1,0.36L-1,0.36Z", "size": 3721, "filled": true, "color": "white", "opacity": 1, "strokeWidth": 0}, "encoding": {"x": {"field": "t", "type": "quantitative", "scale": {"domain": [5, 39.97], "nice": false, "zero": false}, "axis": null}, "y": {"field": "v", "type": "quantitative", "scale": {"domain": [-42.8, 9.4], "nice": false, "zero": false}, "axis": null}}},
  {"data": {"name": "ann"}, "transform": [{"filter": "datum.p == 4"}], "mark": {"type": "text", "font": "Liberation Sans", "fontSize": 13, "color": "black"}, "encoding": {"x": {"field": "t", "type": "quantitative", "scale": {"domain": [5, 39.97], "nice": false, "zero": false}, "axis": null}, "y": {"field": "v", "type": "quantitative", "scale": {"domain": [-42.8, 9.4], "nice": false, "zero": false}, "axis": null}, "text": {"field": "lab"}}}
 ]}
]
}
